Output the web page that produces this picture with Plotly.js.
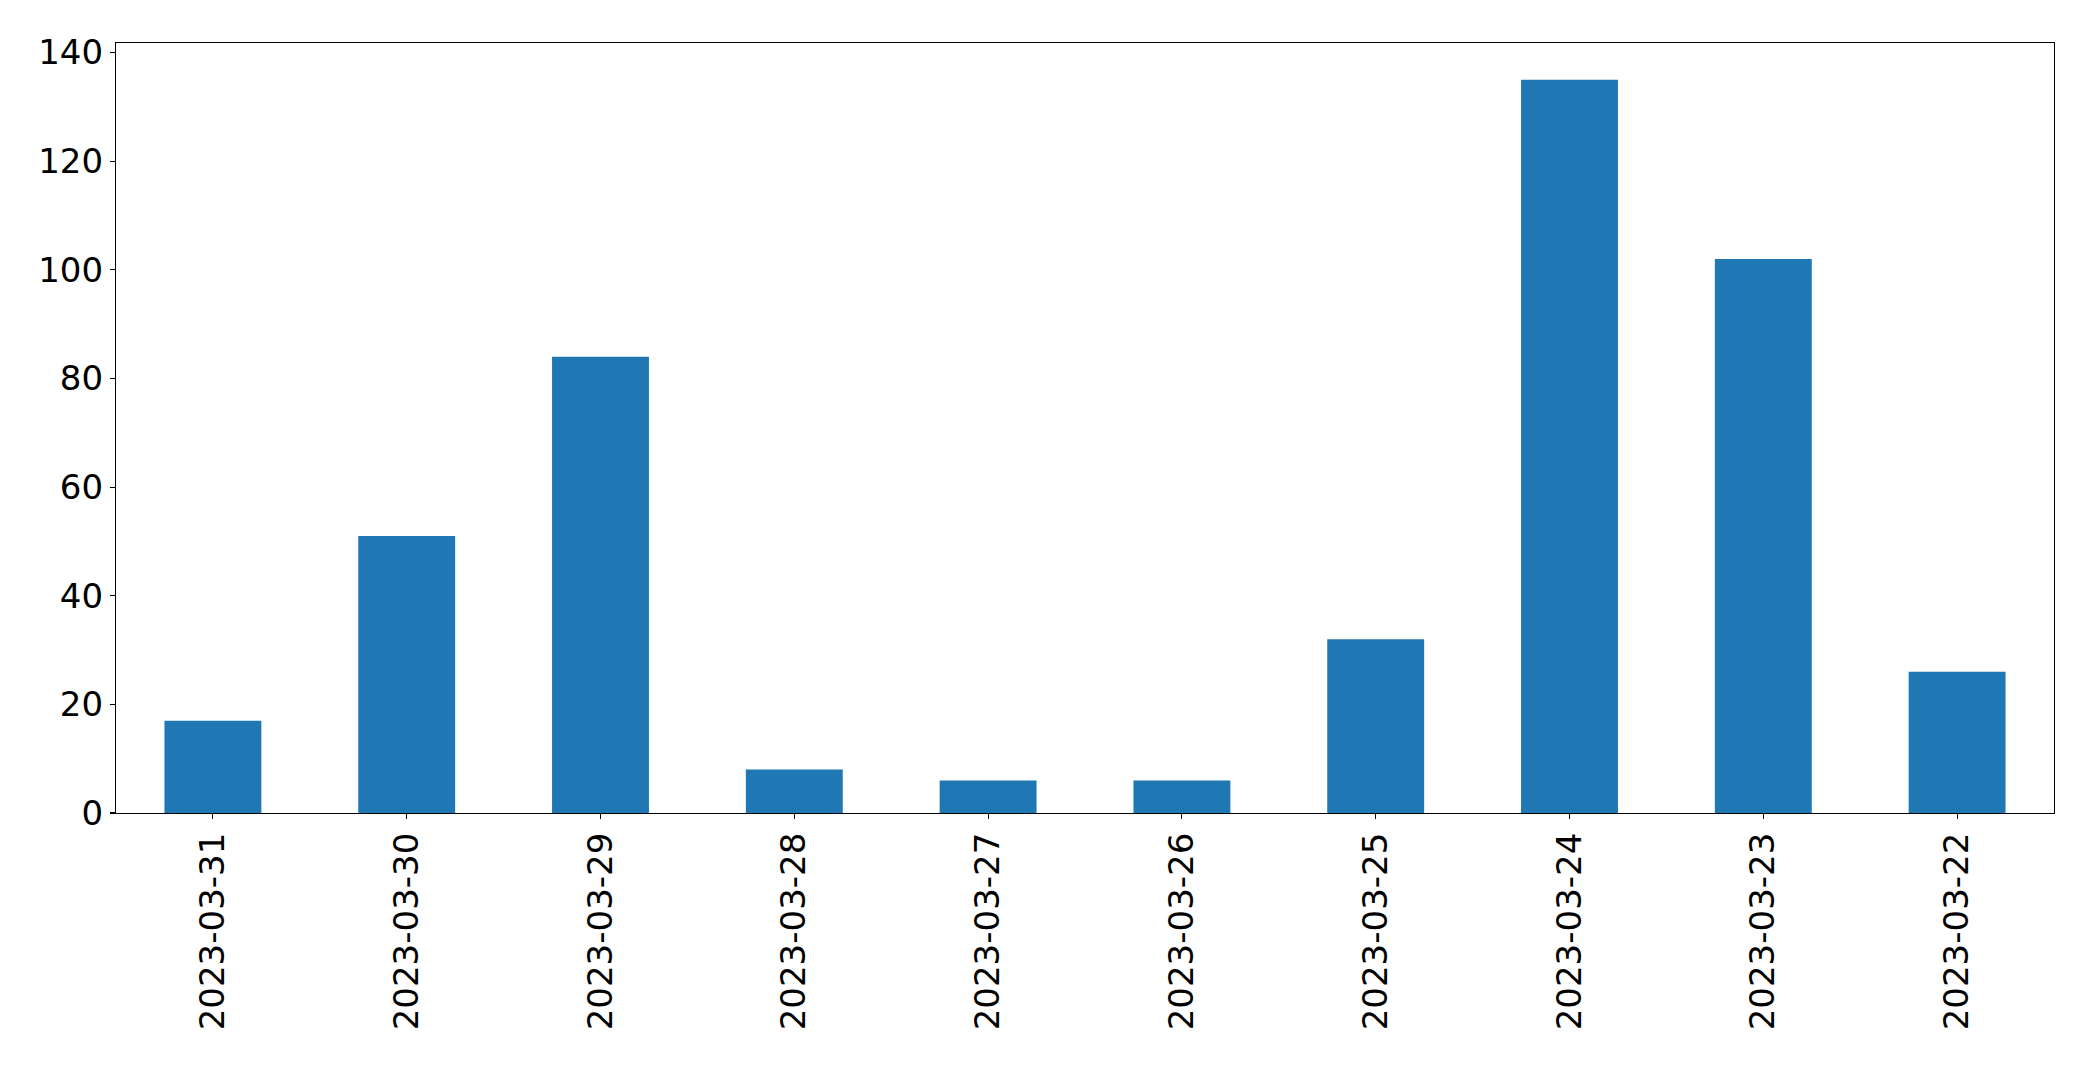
<!DOCTYPE html>
<html>
<head>
<meta charset="utf-8">
<script src="https://cdn.plot.ly/plotly-3.0.1.min.js"></script>
<style>html,body{margin:0;padding:0;background:#fff;}#chart{width:2093px;height:1065px;}</style>
</head>
<body>
<div id="chart"></div>
<script>
const dates = ["2023-03-31","2023-03-30","2023-03-29","2023-03-28","2023-03-27","2023-03-26","2023-03-25","2023-03-24","2023-03-23","2023-03-22"];
const counts = [17, 51, 84, 8, 6, 6, 32, 135, 102, 26];
const yTicks = [0, 20, 40, 60, 80, 100, 120, 140];

const trace = {
  type: 'bar',
  x: dates,
  y: counts,
  marker: {color: '#1f77b4', line: {width: 0}},
  hoverinfo: 'x+y'
};
const layout = {
  width: 2093, height: 1065,
  margin: {l: 116, r: 39, t: 43, b: 252, pad: 0},
  paper_bgcolor: '#ffffff', plot_bgcolor: '#ffffff',
  font: {family: 'DejaVu Sans', size: 34, color: '#000000'},
  showlegend: false,
  bargap: 0.5,
  xaxis: {
    type: 'category',
    range: [-0.5, 9.5],
    tickangle: -90,
    showline: true, mirror: true, linecolor: '#000', linewidth: 1.1,
    ticks: 'outside', ticklen: 5, tickwidth: 1.1, tickcolor: '#000',
    showgrid: false, zeroline: false,
    tickfont: {family: 'DejaVu Sans', size: 34, color: '#000'}
  },
  yaxis: {
    range: [0, 141.75],
    tickvals: yTicks,
    ticktext: yTicks.map(String),
    showline: true, mirror: true, linecolor: '#000', linewidth: 1.1,
    ticks: 'outside', ticklen: 5, tickwidth: 1.1, tickcolor: '#000',
    showgrid: false, zeroline: false,
    tickfont: {family: 'DejaVu Sans', size: 34, color: '#000'}
  }
};
Plotly.newPlot('chart', [trace], layout, {displayModeBar: false, staticPlot: true});
</script>
</body>
</html>
